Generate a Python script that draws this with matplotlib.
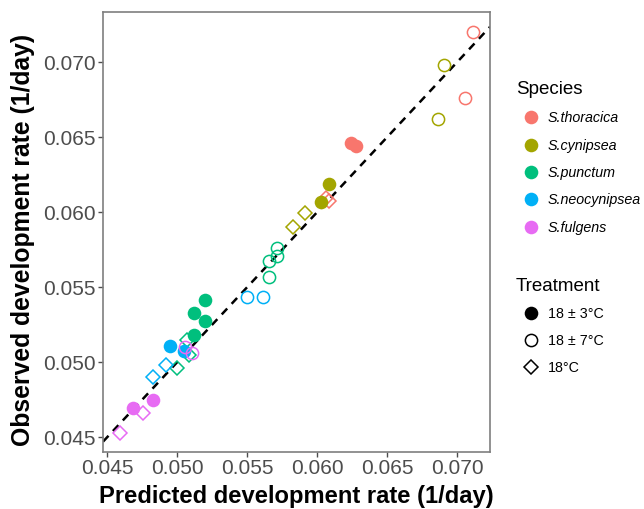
import matplotlib
matplotlib.use("Agg")
import matplotlib.pyplot as plt
from matplotlib.lines import Line2D

plt.rcParams['font.family'] = ['Liberation Sans', 'DejaVu Sans']

species = ["S.thoracica", "S.cynipsea", "S.punctum", "S.neocynipsea", "S.fulgens"]
colors = ["#F8766D", "#A3A500", "#00BF7D", "#00B0F6", "#E76BF3"]
treatments = ["18 ± 3°C", "18 ± 7°C", "18°C"]

# (species index, treatment index, predicted, observed)
sp_idx = [0, 0, 0, 0, 0, 0,
          1, 1, 1, 1, 1, 1,
          2, 2, 2, 2, 2, 2, 2, 2, 2, 2, 2,
          3, 3, 3, 3, 3, 3,
          4, 4, 4, 4, 4, 4]
tr_idx = [1, 1, 0, 0, 2, 2,
          1, 1, 0, 0, 2, 2,
          1, 1, 1, 1, 0, 0, 0, 0, 2, 2, 2,
          1, 1, 0, 0, 2, 2,
          1, 1, 0, 0, 2, 2]
predicted = [0.07112, 0.07055, 0.06241, 0.06276, 0.06062, 0.06082,
             0.06907, 0.06867, 0.06088, 0.06029, 0.05914, 0.05831,
             0.05712, 0.05717, 0.05655, 0.05657, 0.05202, 0.05124, 0.05202, 0.05124, 0.05002, 0.05086, 0.05074,
             0.05500, 0.05617, 0.04952, 0.05050, 0.04921, 0.04826,
             0.05057, 0.05109, 0.04831, 0.04688, 0.04760, 0.04593]
observed = [0.07204, 0.06760, 0.06464, 0.06442, 0.06097, 0.06077,
            0.06980, 0.06620, 0.06189, 0.06071, 0.05993, 0.05904,
            0.05764, 0.05709, 0.05675, 0.05571, 0.05415, 0.05331, 0.05275, 0.05182, 0.04964, 0.05049, 0.05149,
            0.05437, 0.05433, 0.05109, 0.05077, 0.04982, 0.04904,
            0.05104, 0.05064, 0.04749, 0.04697, 0.04660, 0.04527]

xticks = [0.045, 0.050, 0.055, 0.060, 0.065, 0.070]
yticks = [0.045, 0.050, 0.055, 0.060, 0.065, 0.070]

fig = plt.figure(figsize=(6.44, 5.09), dpi=100)
ax = fig.add_axes([0.160, 0.1126, 0.6009, 0.8632])

ax.axline((0.045, 0.045), slope=1, color="black", linestyle=(0, (3.2, 2.6)), linewidth=1.8, zorder=1)

for s, t, x, y in zip(sp_idx, tr_idx, predicted, observed):
    c = colors[s]
    if t == 0:
        ax.plot(x, y, marker="o", ms=9.8, mfc=c, mec=c, mew=0, linestyle="none", zorder=3)
    elif t == 1:
        ax.plot(x, y, marker="o", ms=8.8, mfc="none", mec=c, mew=1.1, linestyle="none", zorder=3)
    else:
        ax.plot(x, y, marker="D", ms=7.4, mfc="none", mec=c, mew=1.1, linestyle="none", zorder=3)

ax.set_xlim(0.04471, 0.07236)
ax.set_ylim(0.04404, 0.07333)
ax.set_xticks(xticks)
ax.set_yticks(yticks)
ax.set_xticklabels([f"{v:.3f}" for v in xticks])
ax.set_yticklabels([f"{v:.3f}" for v in yticks])
ax.tick_params(axis="both", labelsize=15, colors="#4D4D4D", length=3.5, width=1, pad=2)
for sp in ax.spines.values():
    sp.set_color("#7F7F7F")
    sp.set_linewidth(1.2)

ax.set_xlabel("Predicted development rate (1/day)", fontsize=17.1, fontweight="bold", labelpad=4.5)
ax.set_ylabel("Observed development rate (1/day)", fontsize=17.8, fontweight="bold")
ax.yaxis.set_label_coords(-0.176, 0.482)

sp_handles = [Line2D([], [], marker="o", linestyle="none", ms=9.8, mfc=c, mec=c, mew=0) for c in colors]
leg1 = fig.legend(sp_handles, species, loc="upper left", bbox_to_anchor=(0.792, 0.852),
                  frameon=False, title="Species", title_fontsize=13.5,
                  prop={"style": "italic", "size": 10.3}, labelspacing=0.93, handletextpad=0.15,
                  handlelength=2.1, borderaxespad=0)
leg1._legend_box.align = "left"

tr_handles = [Line2D([], [], marker="o", linestyle="none", ms=9.8, mfc="black", mec="black", mew=0),
              Line2D([], [], marker="o", linestyle="none", ms=8.8, mfc="none", mec="black", mew=1.1),
              Line2D([], [], marker="D", linestyle="none", ms=7.4, mfc="none", mec="black", mew=1.1)]
leg2 = fig.legend(tr_handles, treatments, loc="upper left", bbox_to_anchor=(0.792, 0.466),
                  frameon=False, title="Treatment", title_fontsize=13.5, fontsize=10.3,
                  labelspacing=0.9, handletextpad=0.15, handlelength=2.1, borderaxespad=0)
leg2._legend_box.align = "left"

fig.savefig("out.png", dpi=100)
